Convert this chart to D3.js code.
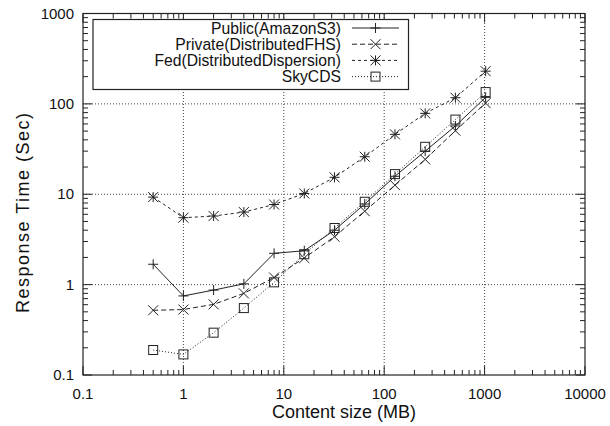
<!DOCTYPE html>
<html><head><meta charset="utf-8">
<script src="https://cdn.jsdelivr.net/npm/d3@7"></script>
<style>body{margin:0;background:#fff}svg{display:block}text{font-family:"Liberation Sans",Arial,sans-serif;fill:#111}</style>
</head><body><svg id="c" width="610" height="426"></svg>
<script>
const sizes = [0.5,1,2,4,8,16,32,64,128,256,512,1024];
const publicS3 = [1.68,0.75,0.87,1.02,2.22,2.37,4.0,7.8,15.8,30,57,118];
const privateFHS = [0.52,0.53,0.605,0.80,1.2,1.97,3.39,6.5,12.6,24.3,50.5,102];
const fedDisp = [9.3,5.5,5.74,6.35,7.7,10.2,15.4,26,46,78.5,117,230];
const skyCDS = [0.189,0.169,0.294,0.55,1.06,2.17,4.23,8.26,16.7,33.5,67,135];
const seriesNames = ["Public(AmazonS3)","Private(DistributedFHS)","Fed(DistributedDispersion)","SkyCDS"];
const xTicks = [0.1,1,10,100,1000,10000];
const yTicks = [0.1,1,10,100,1000];

const svg = d3.select("#c");
const L=83,R=585,T=13.5,B=375;
const x = d3.scaleLog().domain([0.1,10000]).range([L,R]);
const y = d3.scaleLog().domain([0.1,1000]).range([B,T]);
const ink="#222";

// grid
const g = svg.append("g");
xTicks.slice(1,-1).forEach(v=>g.append("line").attr("x1",x(v)).attr("x2",x(v)).attr("y1",B).attr("y2",T)
  .attr("stroke","#444").attr("stroke-width",1).attr("stroke-dasharray","1,2"));
yTicks.slice(1,-1).forEach(v=>g.append("line").attr("x1",L).attr("x2",R).attr("y1",y(v)).attr("y2",y(v))
  .attr("stroke","#444").attr("stroke-width",1).attr("stroke-dasharray","1,2"));

// minor ticks
function minors(dom){const out=[];for(let e=Math.log10(dom[0]);e<Math.log10(dom[1]);e++){for(let k=2;k<=9;k++)out.push(k*Math.pow(10,e));}return out;}
const xm=minors([0.1,10000]), ym=minors([0.1,1000]);
const tk=svg.append("g").attr("stroke",ink).attr("stroke-width",1);
xTicks.forEach(v=>{tk.append("line").attr("x1",x(v)).attr("x2",x(v)).attr("y1",B).attr("y2",B-9);
  tk.append("line").attr("x1",x(v)).attr("x2",x(v)).attr("y1",T).attr("y2",T+9);});
xm.forEach(v=>{tk.append("line").attr("x1",x(v)).attr("x2",x(v)).attr("y1",B).attr("y2",B-5);
  tk.append("line").attr("x1",x(v)).attr("x2",x(v)).attr("y1",T).attr("y2",T+5);});
yTicks.forEach(v=>{tk.append("line").attr("y1",y(v)).attr("y2",y(v)).attr("x1",L).attr("x2",L+9);
  tk.append("line").attr("y1",y(v)).attr("y2",y(v)).attr("x1",R).attr("x2",R-9);});
ym.forEach(v=>{tk.append("line").attr("y1",y(v)).attr("y2",y(v)).attr("x1",L).attr("x2",L+5);
  tk.append("line").attr("y1",y(v)).attr("y2",y(v)).attr("x1",R).attr("x2",R-5);});

// tick labels
xTicks.forEach(v=>svg.append("text").attr("x",x(v)).attr("y",B+24).attr("text-anchor","middle").attr("font-size",15).text(v));
yTicks.forEach(v=>svg.append("text").attr("x",L-9).attr("y",y(v)+5).attr("text-anchor","end").attr("font-size",15).text(v));

// axis titles
svg.append("text").attr("x",344).attr("y",418).attr("text-anchor","middle").attr("font-size",18).text("Content size (MB)");
svg.append("text").attr("transform",`translate(28.5,213) rotate(-90)`).attr("text-anchor","middle").attr("font-size",18)
  .attr("textLength",200).attr("lengthAdjust","spacing").text("Response Time (Sec)");

// series
const data=[publicS3,privateFHS,fedDisp,skyCDS];
const dashes=[null,"5,3","3,3","1,2"];
const markers=["plus","cross","star","square"];
function marker(sel,type,cx,cy){
  const s=5;
  const p=sel.append("g").attr("stroke",ink).attr("stroke-width",1).attr("fill","none");
  if(type==="plus"||type==="star"){p.append("path").attr("d",`M${cx-s},${cy}H${cx+s}M${cx},${cy-s}V${cy+s}`);}
  if(type==="cross"||type==="star"){p.append("path").attr("d",`M${cx-s},${cy-s}L${cx+s},${cy+s}M${cx-s},${cy+s}L${cx+s},${cy-s}`);}
  if(type==="square"){p.append("rect").attr("x",cx-4.5).attr("y",cy-4.5).attr("width",9).attr("height",9);}
}
const line=d3.line().x(d=>x(d[0])).y(d=>y(d[1]));
data.forEach((vals,i)=>{
  const pts=sizes.map((s,j)=>[s,vals[j]]);
  svg.append("path").attr("d",line(pts)).attr("fill","none").attr("stroke",ink).attr("stroke-width",1)
    .attr("stroke-dasharray",dashes[i]);
  pts.forEach(p=>marker(svg,markers[i],x(p[0]),y(p[1])));
});

// frame
svg.append("rect").attr("x",L).attr("y",T).attr("width",R-L).attr("height",B-T).attr("fill","none").attr("stroke",ink).attr("stroke-width",1.2);

// legend
const lg=svg.append("g");
lg.append("rect").attr("x",93).attr("y",19.5).attr("width",315.5).attr("height",70).attr("fill","#fff").attr("stroke",ink).attr("stroke-width",1.2);
seriesNames.forEach((n,i)=>{
  const yy=28+16.2*i;
  lg.append("text").attr("x",341).attr("y",yy+5.5).attr("text-anchor","end").attr("font-size",15.7).text(n);
  lg.append("line").attr("x1",352).attr("x2",399).attr("y1",yy).attr("y2",yy).attr("stroke",ink).attr("stroke-width",1).attr("stroke-dasharray",dashes[i]);
  marker(lg,markers[i],375.5,yy);
});
</script></body></html>
